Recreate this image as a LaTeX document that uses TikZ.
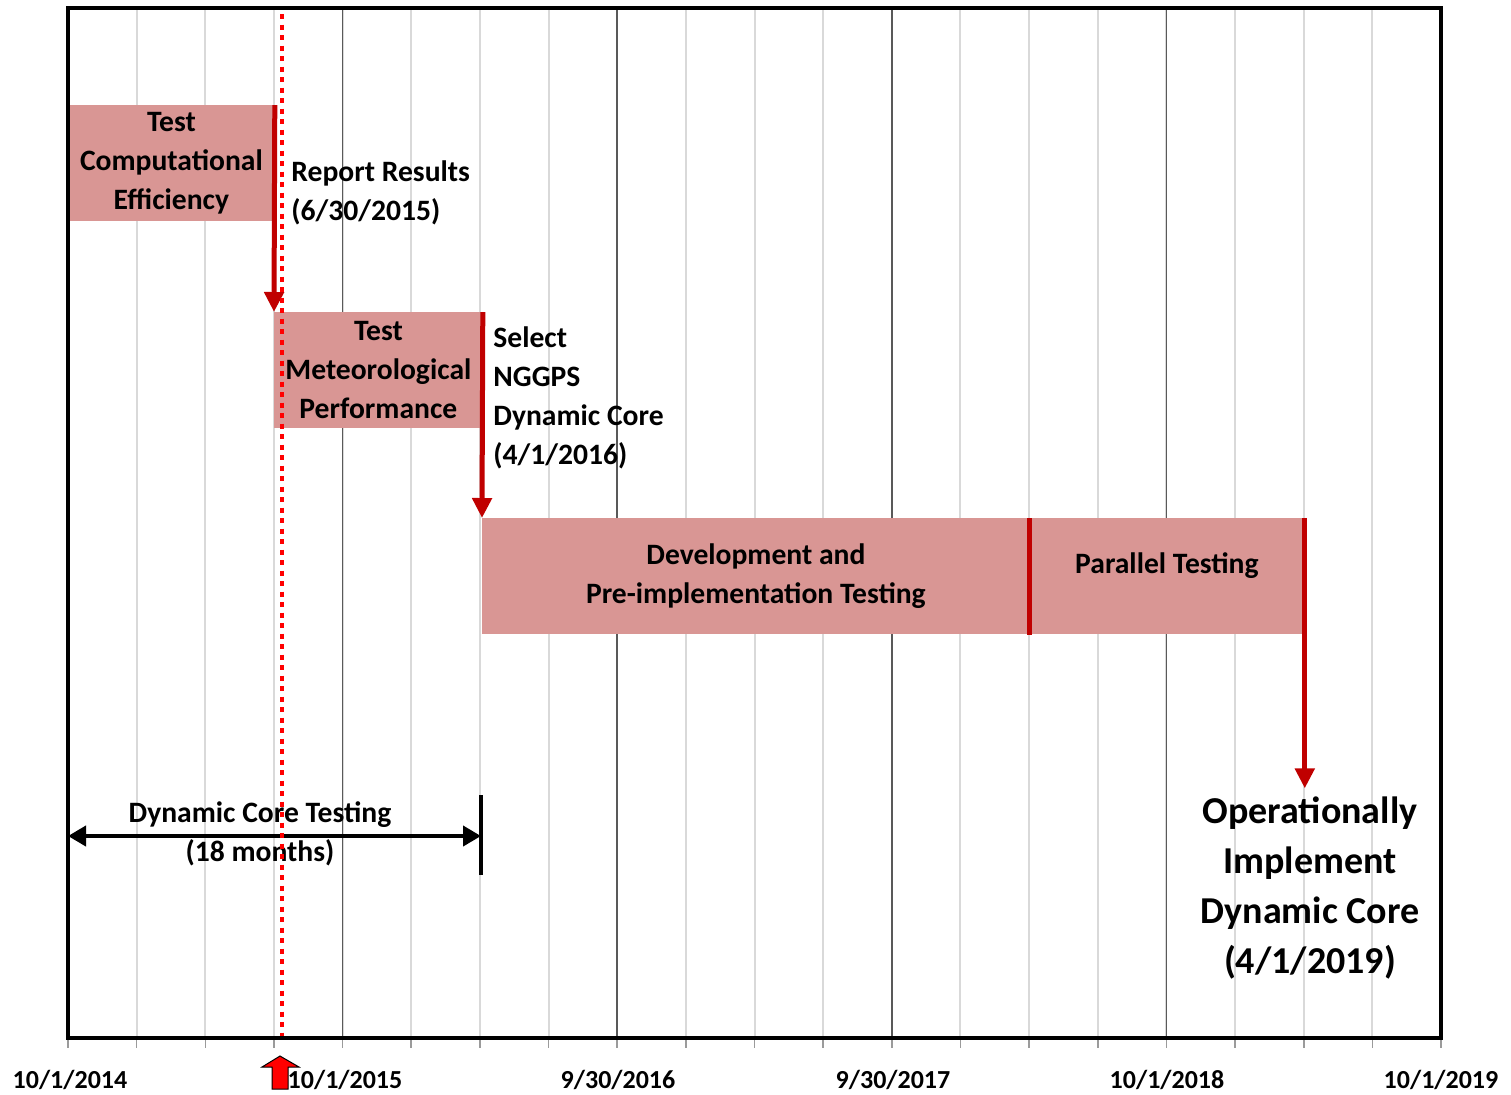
\documentclass[tikz,border=0pt]{standalone}
\usepackage{fontspec}
\setmainfont{Carlito}
\usetikzlibrary{arrows.meta, calc}

\definecolor{barfill}{RGB}{217,150,148}
\definecolor{darkred}{RGB}{192,0,0}
\definecolor{minorgrid}{RGB}{217,217,217}
\definecolor{majorgrid}{RGB}{89,89,89}

\begin{document}
\begin{tikzpicture}[x=0.5pt,y=-0.5pt,
bar/.style={fill=barfill,anchor=north west,inner sep=0pt,minimum height=58pt,
  align=center,font=\bfseries\fontsize{14.8}{19.5}\selectfont},
note/.style={anchor=west,align=left,inner sep=0pt,font=\bfseries\fontsize{14.8}{19.5}\selectfont},
milestone/.style={darkred,line width=2.5pt,-{Triangle[width=9.5pt,length=10pt]}},
datelabel/.style={font=\bfseries\fontsize{13}{15}\selectfont,inner sep=0pt}]

  \useasboundingbox (0,0) rectangle (1511,1094);

  % grid: one line per quarter
  \foreach \i in {1,...,19}
    \draw [minorgrid,line width=1pt] ({68+68.65*\i},8) -- ({68+68.65*\i},1038);
  \foreach \i in {4,8,12,16}
    \draw [majorgrid,line width=0.8pt] ({68+68.65*\i},8) -- ({68+68.65*\i},1038);
  \foreach \i in {0,...,20}
    \draw [majorgrid!60,line width=0.8pt] ({68+68.65*\i},1038) -- ({68+68.65*\i},1048);

  % tasks
  \node [bar,minimum width=103pt] (cpu) at (68,105) {Test\\Computational\\Efficiency};
  \node [bar,minimum width=104pt] (met) at (274,312) {Test\\Meteorological\\Performance};
  \node [bar,minimum width=273.5pt] (dev) at (482,518) {Development and\\Pre-implementation Testing};
  \node [bar,minimum width=137.5pt,text height=10pt,text depth=13pt] (par) at (1029,518) {Parallel Testing};

  % milestones
  \node [note] (report) at (291,193) {Report Results\\(6/30/2015)};
  \node [note] (select) at (493,398) {Select\\NGGPS\\Dynamic Core\\(4/1/2016)};
  \node [align=center,inner sep=0pt,font=\bfseries\fontsize{19}{25}\selectfont]
    (oper) at (1310,888) {Operationally\\Implement\\Dynamic Core\\(4/1/2019)};

  \draw [milestone] (cpu.north east) -- (met.north west);
  \draw [milestone] (met.north east) -- (dev.north west);
  \draw [darkred,line width=2.5pt] (dev.north east) -- (dev.south east);
  \draw [milestone,shorten >=4pt] (par.north east) -- (par.north east |- oper.north);

  % testing period
  \coordinate (dctstart) at (68,836);
  \coordinate (dctend)   at (481,836);
  \draw [line width=2pt,{Triangle[width=10pt,length=9pt]}-{Triangle[width=10pt,length=9pt]}]
    (dctstart) -- (dctend);
  \draw [line width=2pt] ($(dctend)+(0,-41)$) -- ($(dctend)+(0,39)$);
  \node [align=center,inner sep=0pt,font=\bfseries\fontsize{14.8}{19.5}\selectfont]
    (dct) at (260,834) {Dynamic Core Testing\\(18 months)};

  % today
  \draw [red,line width=2pt,dash pattern=on 2.5pt off 2.75pt] (282,14) -- (282,1036);

  % frame
  \draw [line width=2pt] (68,8) rectangle (1441,1038);

  % dates
  \node [datelabel] (d14) at (70,1080)   {10/1/2014};
  \node [datelabel] (d15) at (345,1080)  {10/1/2015};
  \node [datelabel] (d16) at (618,1080)  {9/30/2016};
  \node [datelabel] (d17) at (893,1080)  {9/30/2017};
  \node [datelabel] (d18) at (1167,1080) {10/1/2018};
  \node [datelabel] (d19) at (1441,1080) {10/1/2019};

  % now marker
  \filldraw [fill=red,draw=black,line width=0.5pt]
    (280,1056) -- (299,1067) -- (288,1067) -- (288,1089) -- (272,1089)
    -- (272,1067) -- (262,1067) -- cycle;
\end{tikzpicture}
\end{document}
